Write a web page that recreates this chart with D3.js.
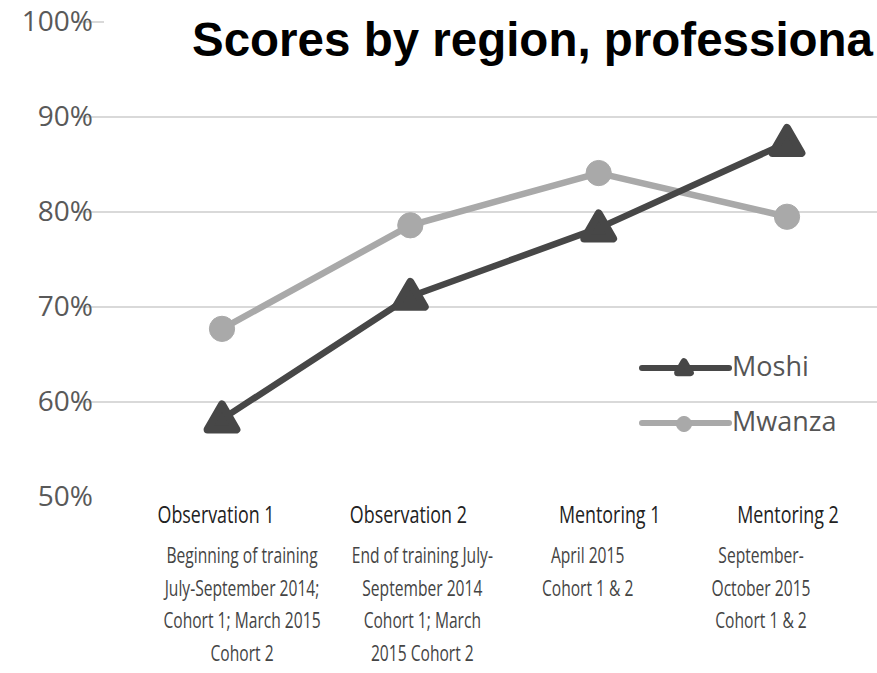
<!DOCTYPE html>
<html>
<head>
<meta charset="utf-8">
<script src="https://cdn.jsdelivr.net/npm/d3@7"></script>
<style>
    body { margin: 0; background: #fff; overflow: hidden; }
    #chart { width: 877px; height: 673px; }
</style>
</head>
<body>
<div id="chart"></div>
<script>
// data
const stages = ["Observation 1", "Observation 2", "Mentoring 1", "Mentoring 2"];
const stageNotes = [
    ["Beginning of training", "July-September  2014;", "Cohort 1; March 2015", "Cohort 2"],
    ["End of training July-", "September 2014", "Cohort 1; March", "2015 Cohort 2"],
    ["April 2015", "Cohort 1 & 2"],
    ["September-", "October 2015", "Cohort 1 & 2"]
];
const moshi = [0.582, 0.711, 0.783, 0.873];
const mwanza = [0.677, 0.786, 0.841, 0.795];
const yTicks = [0.5, 0.6, 0.7, 0.8, 0.9, 1.0];

class LineChart {
    constructor(parentElement) {
        this.parentElement = parentElement;
        this.initVis();
    }

    initVis() {
        let vis = this;
        vis.width = 877;
        vis.height = 673;

        vis.svg = d3.select("#" + vis.parentElement).append("svg")
            .attr("width", vis.width)
            .attr("height", vis.height);

        vis.x = d3.scalePoint()
            .domain(stages)
            .range([222, 787]);

        vis.y = d3.scaleLinear()
            .domain([0.5, 1.0])
            .range([497, 22]);

        vis.series = [
            {name: "Moshi", values: moshi, color: "#474747", shape: "tri"},
            {name: "Mwanza", values: mwanza, color: "#a9a9a9", shape: "circle"}
        ];

        this.updateVis();
    }

    updateVis() {
        let vis = this;

        // gridlines (the 100% one gets hidden behind the title box)
        vis.svg.append("g")
            .selectAll("line")
            .data(yTicks.filter(d => d > 0.5))
            .enter()
            .append("line")
            .attr("x1", 75)
            .attr("x2", vis.width)
            .attr("y1", d => vis.y(d))
            .attr("y2", d => vis.y(d))
            .attr("stroke", "#d9d9d9")
            .attr("stroke-width", 2);

        // y labels
        let yAxis = d3.axisLeft(vis.y)
            .tickValues(yTicks)
            .tickFormat(d3.format(".0%"))
            .tickSize(0)
            .tickPadding(0);

        let yg = vis.svg.append("g")
            .attr("transform", "translate(93,0)")
            .call(yAxis);
        yg.select(".domain").remove();
        yg.selectAll("text")
            .attr("fill", "#595959")
            .style("font-family", "'Open Sans', sans-serif")
            .style("font-size", "28px");

        // title with white backing (the original is cut at the right edge)
        vis.svg.append("rect")
            .attr("x", 104)
            .attr("y", 8)
            .attr("width", vis.width - 104)
            .attr("height", 60)
            .attr("fill", "#fff");

        vis.svg.append("text")
            .text("Scores by region, professiona")
            .attr("x", 192)
            .attr("y", 56)
            .attr("fill", "#000")
            .style("font-family", "'Liberation Sans', Arial, sans-serif")
            .style("font-weight", "bold")
            .style("font-size", "47.5px");

        // lines
        let line = d3.line()
            .x((d, i) => vis.x(stages[i]))
            .y(d => vis.y(d));

        // draw the light series first so the dark one crosses over it
        let order = [vis.series[1], vis.series[0]];

        order.forEach(s => {
            vis.svg.append("path")
                .datum(s.values)
                .attr("d", line)
                .attr("fill", "none")
                .attr("stroke", s.color)
                .attr("stroke-width", 6.5)
                .attr("stroke-linejoin", "round");

            vis.drawMarkers(s);
        });

        // x category labels, squeezed sideways like the original
        let headDx = [-6, -2, 11, 1];
        let noteDx = [20, 12, -11, -26];
        let font = "'Open Sans', sans-serif";

        let cats = vis.svg.append("g")
            .selectAll("g")
            .data(stages)
            .enter()
            .append("g")
            .attr("transform", d => `translate(${vis.x(d)},0)`);

        cats.append("text")
            .attr("transform", (d, i) => `translate(${headDx[i]},523) scale(0.745,1)`)
            .attr("text-anchor", "middle")
            .attr("fill", "#222")
            .style("font-family", font)
            .style("font-size", "24px")
            .text(d => d);

        cats.each(function(d, i) {
            d3.select(this).selectAll(".note")
                .data(stageNotes[i])
                .enter()
                .append("text")
                .attr("class", "note")
                .attr("transform", (t, j) => `translate(${noteDx[i]},${563 + j * 32.5}) scale(0.71,1)`)
                .attr("text-anchor", "middle")
                .attr("fill", "#444")
                .style("font-family", font)
                .style("font-size", "22px")
                .text(t => t);
        });

        // legend
        let legend = vis.svg.append("g")
            .selectAll("g")
            .data(vis.series)
            .enter()
            .append("g")
            .attr("transform", (d, i) => `translate(0,${368 + i * 55})`);

        legend.append("line")
            .attr("x1", 642)
            .attr("x2", 729)
            .attr("stroke", d => d.color)
            .attr("stroke-width", 6)
            .attr("stroke-linecap", "round");

        legend.append("path")
            .attr("transform", "translate(684,1)")
            .attr("d", d => d.shape == "tri"
                ? d3.symbol(d3.symbolTriangle, 70)()
                : d3.symbol(d3.symbolCircle, 180)())
            .attr("fill", d => d.color)
            .attr("stroke", d => d.color)
            .attr("stroke-width", d => d.shape == "tri" ? 7 : 1)
            .attr("stroke-linejoin", "round");

        legend.append("text")
            .attr("x", 732)
            .attr("y", 8)
            .attr("fill", "#555")
            .style("font-family", font)
            .style("font-size", "27px")
            .text(d => d.name);
    }

    drawMarkers(s) {
        let vis = this;
        let sym = s.shape == "tri"
            ? d3.symbol(d3.symbolTriangle, 360)
            : d3.symbol(d3.symbolCircle, 500);

        vis.svg.append("g")
            .selectAll("path")
            .data(s.values)
            .enter()
            .append("path")
            .attr("transform", (d, i) => `translate(${vis.x(stages[i])},${vis.y(d) + (s.shape == "tri" ? 2 : 0)})`)
            .attr("d", sym())
            .attr("fill", s.color)
            .attr("stroke", s.color)
            .attr("stroke-width", s.shape == "tri" ? 8 : 1)
            .attr("stroke-linejoin", "round");
    }
}

new LineChart("chart");
</script>
</body>
</html>
